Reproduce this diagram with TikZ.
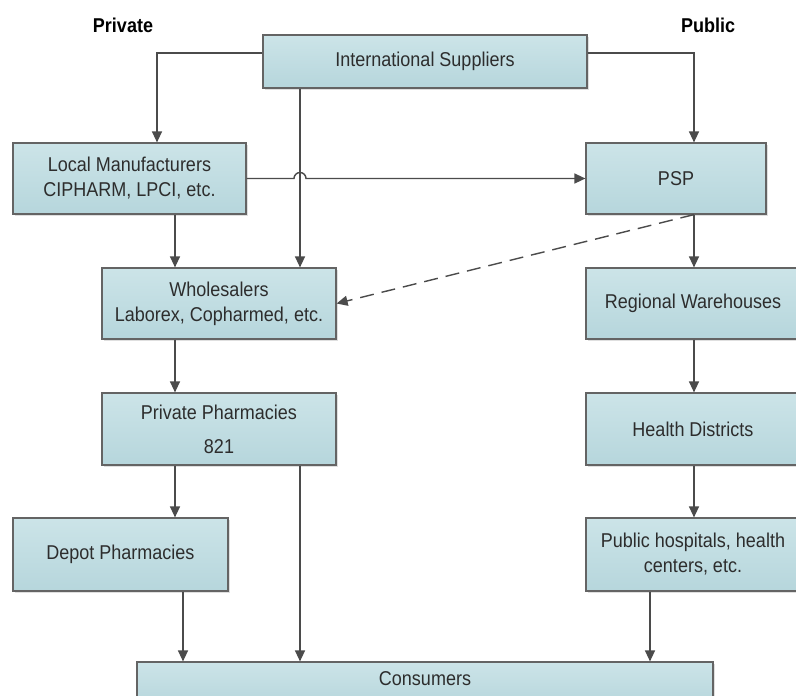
\documentclass[tikz,border=0pt]{standalone}
\usepackage{fontspec}
\setmainfont{Liberation Sans}[FakeStretch=0.9]
\usetikzlibrary{arrows.meta,shadows,calc}
\definecolor{boxtop}{RGB}{204,228,232}
\definecolor{boxbot}{RGB}{182,214,220}
\definecolor{boxline}{RGB}{100,100,100}
\definecolor{arrowc}{RGB}{75,75,75}
\definecolor{txt}{RGB}{45,45,45}
\begin{document}
\begin{tikzpicture}[x=1pt,y=-1pt,
  box/.style={draw=boxline, line width=1.2pt, top color=boxtop, bottom color=boxbot,
    text=txt, font=\fontsize{20}{25}\selectfont, align=center, inner sep=0pt,
    drop shadow={shadow xshift=2pt,shadow yshift=-2pt,opacity=0.25}},
  arr/.style={draw=arrowc, line width=1.4pt, -{Triangle[length=11pt,width=10pt]}},
  dasharr/.style={arr, dash pattern=on 14pt off 8pt},
  head/.style={font=\bfseries\fontsize{20}{24}\selectfont, text=black, anchor=base}]
\clip (0,0) rectangle (796,696);
\fill[white] (0,0) rectangle (796,696);
% headers
\node[head] (hpriv) at (123,32) {Private};
\node[head] (hpub) at (708,32) {Public};
% boxes
\node[box, minimum width=324pt, minimum height=53pt] (is) at (425,61.5) {International Suppliers};
\node[box, minimum width=233pt, minimum height=71pt] (lm) at (129.5,178.5) {Local Manufacturers\\CIPHARM, LPCI, etc.};
\node[box, minimum width=180pt, minimum height=71pt] (psp) at (676,178.5) {PSP};
\node[box, minimum width=234pt, minimum height=71pt] (ws) at (219,303.5) {Wholesalers\\Laborex, Copharmed, etc.};
\node[box, minimum width=214pt, minimum height=71pt] (rw) at (693,303.5) {Regional Warehouses};
\node[box, minimum width=234pt, minimum height=72pt] (pp) at (219,429) {Private Pharmacies\\[9pt]821};
\node[box, minimum width=214pt, minimum height=72pt] (hd) at (693,429) {Health Districts};
\node[box, minimum width=215pt, minimum height=73pt] (dp) at (120.5,554.5) {Depot Pharmacies};
\node[box, minimum width=214pt, minimum height=73pt] (phc) at (693,554.5) {Public hospitals, health\\centers, etc.};
\node[box, minimum width=576pt, minimum height=44pt] (con) at (425,684) {\raisebox{10pt}{Consumers}};
% helper coordinates
\coordinate (a1) at (157,53);
\coordinate (a2) at (694,53);
\coordinate (cx) at (300,0);
\coordinate (cl) at (175,0);
\coordinate (cd) at (183,0);
\coordinate (cr) at (650,0);
\coordinate (jl) at (294,0);
% connectors
\draw[arr] (is.west |- a1) -- (a1) -- (a1 |- lm.north);
\draw[arr] (is.east |- a2) -- (a2) -- (a2 |- psp.north);
\draw[arr] (cx |- is.south) -- (cx |- ws.north);
\draw[arr] (lm.east) -- (jl |- lm.east) arc[start angle=180, end angle=0, radius=6pt] -- (psp.west);
\draw[arr] (cl |- lm.south) -- (cl |- ws.north);
\draw[arr] (a2 |- psp.south) -- (a2 |- rw.north);
\draw[dasharr] (a2 |- psp.south) -- (ws.east);
\draw[arr] (cl |- ws.south) -- (cl |- pp.north);
\draw[arr] (a2 |- rw.south) -- (a2 |- hd.north);
\draw[arr] (cl |- pp.south) -- (cl |- dp.north);
\draw[arr] (cx |- pp.south) -- (cx |- con.north);
\draw[arr] (a2 |- hd.south) -- (a2 |- phc.north);
\draw[arr] (cd |- dp.south) -- (cd |- con.north);
\draw[arr] (cr |- phc.south) -- (cr |- con.north);
\end{tikzpicture}
\end{document}
